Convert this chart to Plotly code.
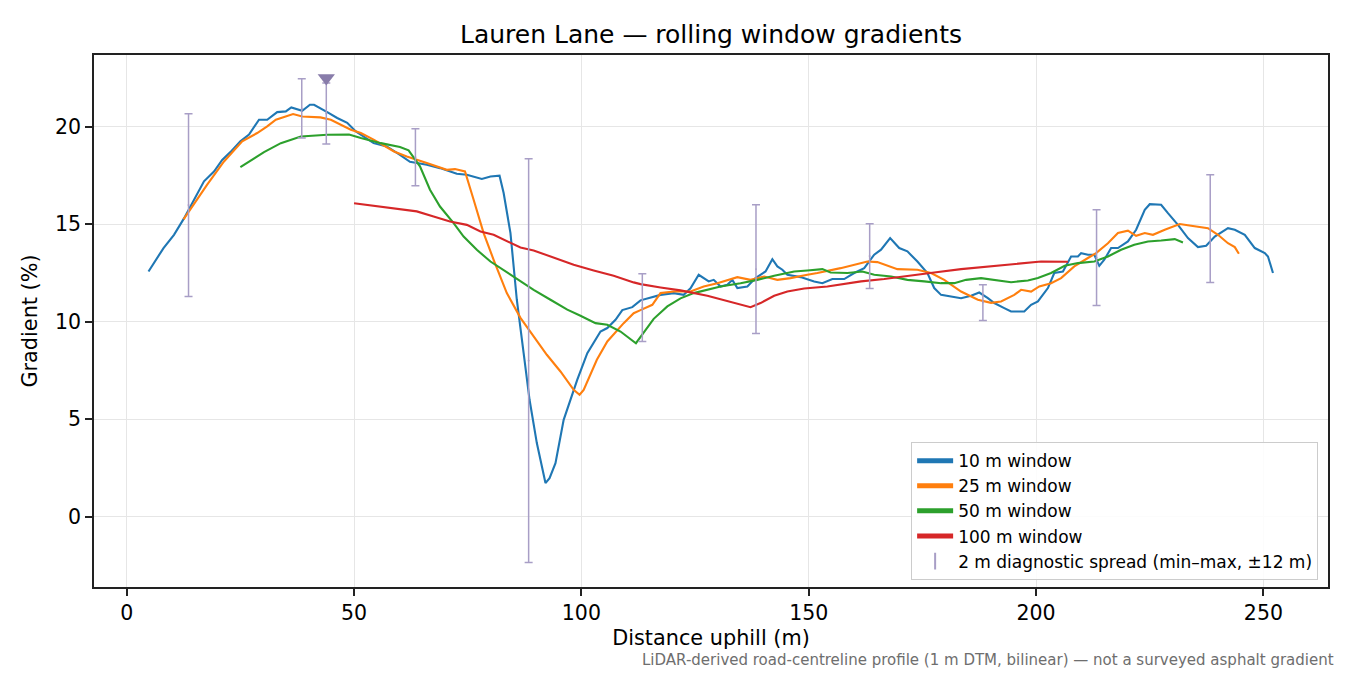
import numpy as np
import plotly.graph_objects as go

# gradient profiles: distance uphill (m) and gradient (%)
dist_10 = [4.8, 8.1, 10.4, 12.6, 17.0, 19.2, 21.0, 22.8, 25.0, 26.9, 29.1, 30.9, 33.1, 35.0, 36.2, 38.6,
           40.3, 41.2, 44.1, 46.3, 48.5, 50.4, 54.3, 57.2, 60.1, 62.3, 66.0, 68.9, 72.6, 74.8, 78.1, 80.0,
           82.0, 82.9, 84.4, 85.8, 87.3, 88.6, 90.2, 92.1, 93.0, 94.3, 96.1, 98.0, 99.1, 101.3, 104.2,
           105.7, 107.5, 109.0, 111.2, 113.0, 117.4, 120.3, 122.5, 124.0, 125.8, 128.0, 129.1, 130.6,
           132.1, 133.2, 134.3, 136.5, 138.3, 140.5, 142.0, 143.1, 144.2, 145.3, 148.2, 151.2, 153.0,
           155.2, 157.8, 160.0, 162.2, 164.4, 165.9, 167.9, 169.9, 171.7, 173.9, 176.1, 177.6, 179.1,
           182.0, 183.5, 185.7, 187.5, 189.4, 190.8, 193.0, 194.5, 197.4, 198.9, 200.4, 202.6, 204.0,
           205.9, 207.7, 209.2, 209.9, 211.4, 212.8, 213.9, 215.0, 216.5, 218.0, 220.2, 222.0, 223.9,
           225.0, 227.5, 229.0, 231.2, 233.4, 235.6, 237.4, 239.3, 242.2, 243.7, 245.9, 248.1, 250.3,
           251.0, 252.1]
grad_10 = [12.58, 13.78, 14.46, 15.3, 17.2, 17.7, 18.3, 18.7, 19.25, 19.6, 20.36, 20.36, 20.75, 20.79,
           20.99, 20.82, 21.13, 21.13, 20.75, 20.45, 20.2, 19.76, 19.16, 18.99, 18.56, 18.2, 18.05, 17.88,
           17.59, 17.54, 17.32, 17.45, 17.49, 16.6, 14.55, 11.13, 8.39, 6.0, 3.78, 1.73, 1.98, 2.75, 4.97,
           6.34, 7.03, 8.39, 9.5, 9.68, 10.1, 10.6, 10.75, 11.1, 11.38, 11.47, 11.38, 11.72, 12.41, 12.07,
           12.15, 11.81, 11.9, 12.15, 11.73, 11.81, 12.24, 12.58, 13.21, 12.84, 12.67, 12.41, 12.29,
           12.07, 11.98, 12.19, 12.19, 12.5, 12.75, 13.44, 13.7, 14.29, 13.78, 13.61, 13.09, 12.5, 11.73,
           11.38, 11.27, 11.21, 11.33, 11.5, 11.21, 10.96, 10.7, 10.53, 10.53, 10.87, 11.04, 11.73, 12.5,
           12.58, 13.35, 13.35, 13.52, 13.44, 13.44, 12.87, 13.18, 13.78, 13.78, 14.12, 14.72, 15.74,
           16.03, 16.0, 15.57, 14.97, 14.29, 13.83, 13.9, 14.37, 14.8, 14.72, 14.46, 13.78, 13.52, 13.35,
           12.5]

dist_25 = [12.5, 17.7, 21.4, 25.4, 28.7, 30.9, 32.8, 34.6, 36.6, 38.6, 42.6, 44.9, 47.1, 49.3, 51.5, 54.4,
           58.8, 61.6, 66.0, 70.4, 72.2, 74.4, 76.3, 78.5, 80.7, 83.6, 86.6, 89.5, 92.4, 95.4, 98.3, 99.6,
           100.5, 103.4, 105.7, 109.3, 111.5, 113.0, 115.6, 117.4, 120.3, 124.0, 126.9, 129.9, 134.3,
           137.2, 140.2, 143.1, 146.0, 149.7, 151.9, 157.0, 160.0, 162.9, 165.1, 169.5, 173.9, 176.9,
           179.8, 183.5, 187.2, 190.1, 192.3, 195.2, 196.7, 198.9, 200.7, 203.3, 205.5, 208.4, 211.4,
           213.2, 215.8, 218.0, 220.2, 222.0, 223.9, 225.7, 228.3, 231.6, 234.1, 237.8, 240.0, 242.2,
           243.7, 244.6]
grad_25 = [15.25, 17.03, 18.22, 19.25, 19.68, 20.02, 20.36, 20.48, 20.65, 20.53, 20.48, 20.36, 20.1, 19.85,
           19.68, 19.33, 18.73, 18.48, 18.14, 17.79, 17.83, 17.71, 16.26, 14.55, 13.18, 11.47, 10.2, 9.25,
           8.31, 7.45, 6.51, 6.26, 6.51, 8.05, 8.99, 9.93, 10.44, 10.6, 10.87, 11.47, 11.55, 11.55, 11.81,
           11.98, 12.29, 12.15, 12.32, 12.15, 12.24, 12.41, 12.5, 12.75, 12.92, 13.09, 13.06, 12.7, 12.67,
           12.5, 12.15, 11.55, 11.13, 10.97, 11.04, 11.38, 11.64, 11.55, 11.81, 11.98, 12.24, 12.84, 13.27,
           13.52, 14.03, 14.55, 14.67, 14.41, 14.55, 14.46, 14.72, 15.01, 14.92, 14.8, 14.46, 14.03, 13.83,
           13.49]

dist_50 = [25.0, 30.2, 33.9, 38.3, 44.1, 48.9, 51.5, 55.9, 60.1, 62.0, 64.5, 66.7, 68.9, 71.9, 74.1, 77.0,
           80.0, 85.1, 89.5, 93.2, 96.9, 99.8, 103.1, 105.7, 108.6, 112.0, 115.9, 118.9, 121.8, 124.7,
           127.7, 130.6, 135.0, 138.7, 142.4, 146.8, 149.7, 153.0, 154.8, 158.5, 161.8, 164.4, 168.1,
           171.7, 175.4, 179.1, 182.0, 184.6, 187.9, 191.6, 194.5, 198.2, 200.4, 203.3, 206.3, 209.2,
           212.8, 215.8, 218.7, 221.6, 224.6, 227.5, 230.5, 232.3]
grad_50 = [17.93, 18.7, 19.16, 19.5, 19.59, 19.6, 19.42, 19.16, 18.96, 18.79, 17.97, 16.77, 15.91, 15.06,
           14.37, 13.69, 13.09, 12.32, 11.64, 11.13, 10.62, 10.31, 9.93, 9.85, 9.5, 8.9, 10.15, 10.79, 11.2,
           11.47, 11.64, 11.81, 11.98, 12.15, 12.36, 12.58, 12.63, 12.7, 12.53, 12.5, 12.58, 12.41, 12.32,
           12.15, 12.07, 11.98, 11.98, 12.15, 12.24, 12.12, 12.03, 12.12, 12.24, 12.5, 12.87, 13.01, 13.09,
           13.35, 13.69, 13.95, 14.12, 14.17, 14.24, 14.07]

dist_100 = [50.0, 54.3, 58.7, 63.8, 67.5, 71.1, 74.8, 77.8, 80.7, 83.6, 86.6, 89.5, 93.9, 98.3, 102.7,
            107.1, 111.5, 113.0, 117.4, 121.8, 127.7, 132.8, 137.2, 139.4, 142.4, 145.3, 149.0, 154.1,
            157.8, 161.5, 166.6, 171.7, 177.6, 183.5, 189.4, 192.3, 196.7, 201.1, 207.0]
grad_100 = [16.08, 15.95, 15.81, 15.66, 15.4, 15.14, 14.97, 14.63, 14.46, 14.12, 13.81, 13.66, 13.27, 12.92,
            12.63, 12.36, 12.02, 11.93, 11.76, 11.61, 11.33, 11.03, 10.75, 10.96, 11.33, 11.55, 11.71, 11.81,
            11.93, 12.07, 12.19, 12.36, 12.53, 12.7, 12.84, 12.92, 13.01, 13.09, 13.08]

# 2 m diagnostic spread (min-max within +-12 m)
spread_dist = [13.6, 38.5, 43.9, 63.5, 88.4, 113.4, 138.4, 163.4, 188.3, 213.3, 238.3]
spread_min = [11.3, 19.42, 19.11, 16.97, -2.34, 8.99, 9.4, 11.71, 10.07, 10.84, 12.02]
spread_max = [20.67, 22.46, 22.25, 19.9, 18.36, 12.46, 16.0, 15.03, 11.9, 15.74, 17.54]

# steepest 2 m reading, shown with a triangle
steep_dist = [43.9]
steep_grad = [22.5]

font = 'DejaVu Sans'
spread_colour = 'rgb(168,158,198)'

fig = go.Figure()
series = [
    ('10 m window', dist_10, grad_10, '#1f77b4'),
    ('25 m window', dist_25, grad_25, '#ff7f0e'),
    ('50 m window', dist_50, grad_50, '#2ca02c'),
    ('100 m window', dist_100, grad_100, '#d62728'),
]
for nom, xs, ys, couleur in series:
    fig.add_trace(go.Scatter(x=xs, y=ys, mode='lines', name=nom,
                             line=dict(color=couleur, width=2.1)))

lo = np.array(spread_min)
hi = np.array(spread_max)
mid = (lo + hi) / 2
fig.add_trace(go.Scatter(
    x=spread_dist, y=mid, mode='markers',
    name='2 m diagnostic spread (min–max, ±12 m)',
    marker=dict(symbol='line-ns-open', size=1, color=spread_colour,
                line=dict(width=1.8, color=spread_colour)),
    error_y=dict(type='data', symmetric=False, array=hi - mid, arrayminus=mid - lo,
                 color=spread_colour, thickness=1.5, width=4),
))
fig.add_trace(go.Scatter(
    x=steep_dist, y=steep_grad, mode='markers', showlegend=False,
    marker=dict(symbol='triangle-down', size=15, color='rgb(136,124,170)'),
))

axe = dict(showline=True, mirror=True, linecolor='#222', linewidth=1.5,
           ticks='outside', ticklen=7, tickwidth=1.5, tickcolor='#222',
           showgrid=True, gridcolor='#e6e6e6', gridwidth=1, zeroline=False,
           tickfont=dict(family=font, size=20.5, color='black'))

# the page puts the figure 8 px in from the top-left corner
fig.update_layout(
    width=1342, height=667,
    margin=dict(l=86, r=22, t=47, b=88),
    paper_bgcolor='white', plot_bgcolor='white',
    font=dict(family=font, color='black'),
    title=dict(text='Lauren Lane — rolling window gradients', x=0.5, xref='paper',
               y=1 - 26 / 667, yanchor='middle', font=dict(size=25, family=font)),
    xaxis=dict(axe, range=[-7.19, 264.2], tickvals=[0, 50, 100, 150, 200, 250],
               title=dict(text='Distance uphill (m)', font=dict(size=20.8), standoff=6)),
    yaxis=dict(axe, range=[-3.6, 23.68], tickvals=[0, 5, 10, 15, 20],
               title=dict(text='Gradient (%)', font=dict(size=20.8), standoff=12)),
    legend=dict(x=0.992, y=0.013, xanchor='right', yanchor='bottom',
                bgcolor='rgba(255,255,255,0.85)', bordercolor='#cccccc', borderwidth=1,
                font=dict(size=17, family=font), itemsizing='constant', itemwidth=36),
    showlegend=True,
)
fig.add_annotation(
    text='LiDAR-derived road-centreline profile (1 m DTM, bilinear) — not a surveyed asphalt gradient',
    xref='paper', yref='paper', x=(1336 - 94) / 1234, y=-0.137, xanchor='right', yanchor='middle',
    showarrow=False, font=dict(size=15, color='#6e6e6e', family=font),
)

fig.write_html('out.html')
print('out.html généré avec succès !')
